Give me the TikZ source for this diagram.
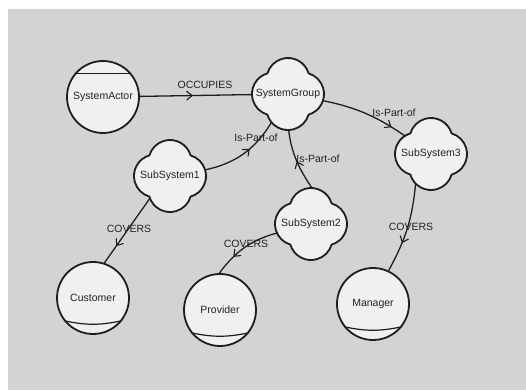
\documentclass[tikz,border=0pt]{standalone}
\usepackage{fontspec}
\setmainfont{Liberation Sans}
\usetikzlibrary{arrows.meta,decorations.markings}
\definecolor{canvas}{HTML}{D3D3D3}
\definecolor{shapefill}{HTML}{F0F0F0}
\definecolor{ink}{HTML}{1E1E1E}
\definecolor{txt}{HTML}{222222}
\pgfdeclarelayer{canvaslayer}
\pgfdeclarelayer{links}
\pgfsetlayers{canvaslayer,links,main}
\tikzset{
  x=1pt, y=1pt,
  actor/.style={circle, draw=ink, fill=shapefill, line width=1.8pt,
    minimum size=72pt, inner sep=0pt, font=\fontsize{10.5}{12}\selectfont, text=txt},
  % invisible anchor disc for a group; the four-lobed outline is drawn over it
  group/.style={circle, minimum size=60pt, inner sep=0pt},
  lobes/.style={draw=ink, fill=shapefill, line width=1.8pt},
  gtext/.style={font=\fontsize{10.5}{12}\selectfont, text=txt, inner sep=0pt},
  rel/.style={draw=ink, line width=1.3pt},
  tip/.style={postaction={decorate, decoration={markings,
    mark=at position #1 with {\arrow[ink, line width=1.1pt]{Straight Barb[length=5.5pt,width=9pt]}}}}},
  elabel/.style={font=\fontsize{10.5}{12}\selectfont, text=txt, inner sep=0pt}
}
\begin{document}
\begin{tikzpicture}
  \useasboundingbox (0,0) rectangle (526,390);
  \begin{pgfonlayer}{canvaslayer}
    \fill[canvas] (8,0) rectangle (526,381);
  \end{pgfonlayer}

  % actors
  \node[actor] (sa) at (103,293) {SystemActor};
  \node[actor] (cust) at (93,92) {Customer};
  \node[actor] (prov) at (220,80) {Provider};
  \node[actor] (mgr) at (373,86) {Manager};
  \draw[ink, line width=1.2pt] (sa.140) -- (sa.40);
  \foreach \n in {cust,prov,mgr}
    \draw[ink, line width=1.2pt] (\n.-142) to[bend right=12] (\n.-38);

  % groups: four overlapping lobes of radius 21.5 around each centre
  \node[group] (sg) at (288,296) {};
  \node[group] (ss1) at (170,214) {};
  \node[group] (ss2) at (311,166) {};
  \node[group] (ss3) at (431,236) {};
  \foreach \n in {sg,ss1,ss2,ss3}
    \draw[lobes, shift={(\n.center)}] (20.6,20.6)
      arc[start angle=16.5, end angle=163.5, radius=21.5]
      arc[start angle=106.5, end angle=253.5, radius=21.5]
      arc[start angle=196.5, end angle=343.5, radius=21.5]
      arc[start angle=-73.5, end angle=73.5, radius=21.5] -- cycle;
  \node[gtext] (sgt) at (sg.center) {SystemGroup};
  \node[gtext] (ss1t) at (ss1.center) {SubSystem1};
  \node[gtext] (ss2t) at (ss2.center) {SubSystem2};
  \node[gtext] (ss3t) at (ss3.center) {SubSystem3};

  % relations, kept behind the shapes
  \begin{pgfonlayer}{links}
    \draw[rel, tip=0.45] (sa) -- (sg);
    \draw[rel, tip=0.6] (ss1) to[bend right=25] (sg);
    \draw[rel, tip=0.5] (ss2.80) to[out=125, in=275] (sg.270);
    \draw[rel, tip=0.82] (sg) to[bend left=12] (ss3);
    \draw[rel, tip=0.74] (ss1.228) -- (cust.72);
    \draw[rel, tip=0.72] (ss2.195) to[bend right=20] (prov.91);
    \draw[rel, tip=0.68] (ss3.240) to[bend left=12] (mgr.65);
  \end{pgfonlayer}

  % relation labels
  \node[elabel] (l1) at (205,305) {OCCUPIES};
  \node[elabel] (l2) at (256,252) {Is-Part-of};
  \node[elabel] (l3) at (318,231) {Is-Part-of};
  \node[elabel] (l4) at (394,277) {Is-Part-of};
  \node[elabel] (l5) at (129,161) {COVERS};
  \node[elabel] (l6) at (246,146) {COVERS};
  \node[elabel] (l7) at (411,163) {COVERS};
\end{tikzpicture}
\end{document}
